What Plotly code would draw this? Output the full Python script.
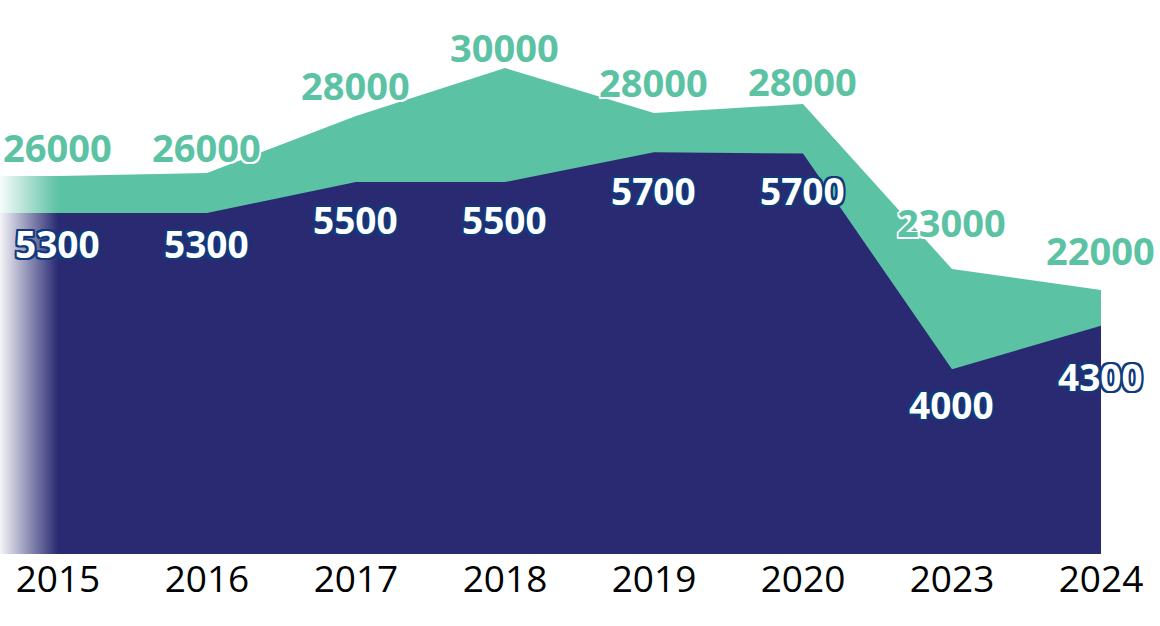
import base64
import plotly.graph_objects as go

# ---------------- data ----------------
years = ["2015", "2016", "2017", "2018", "2019", "2020", "2023", "2024"]
green_values = [25900, 26000, 27900, 29500, 28000, 28300, 22800, 22100]
navy_values = [5250, 5250, 5500, 5500, 5740, 5730, 3990, 4340]
green_labels = ["26000", "26000", "28000", "30000", "28000", "28000", "23000", "22000"]
navy_labels = ["5300", "5300", "5500", "5500", "5700", "5700", "4000", "4300"]

# ---------------- style ----------------
GREEN = "#5CC2A4"
NAVY = "#292A72"
OUTLINE_NAVY = "#12397A"
FONT = "Open Sans"
X_RANGE = [-0.389, 7.396]
Y_GREEN_RANGE = [13300, 31767]
Y_NAVY_RANGE = [2500, 6968]
green_label_lift = [29, 26, 31, 21, 31, 23, 47, 40]
navy_label_drop = [30, 30, 37, 37, 38, 37, 35, 51]


def outline(color, w=1.5):
    offs = [(-w, -w), (w, -w), (-w, w), (w, w), (0, w), (0, -w), (w, 0), (-w, 0)]
    return ", ".join(f"{dx}px {dy}px 0 {color}" for dx, dy in offs)


def white_fade_svg():
    svg = (
        '<svg xmlns="http://www.w3.org/2000/svg" width="100" height="100" '
        'viewBox="0 0 100 100" preserveAspectRatio="none">'
        '<defs><linearGradient id="w" x1="0" y1="0" x2="1" y2="0">'
        '<stop offset="0" stop-color="#ffffff" stop-opacity="0.95"/>'
        '<stop offset="1" stop-color="#ffffff" stop-opacity="0"/>'
        '</linearGradient></defs>'
        '<rect x="0" y="0" width="100" height="100" fill="url(#w)"/></svg>'
    )
    return "data:image/svg+xml;base64," + base64.b64encode(svg.encode()).decode()


xs = list(range(len(years)))
x_left = X_RANGE[0]

fig = go.Figure()

# green area (green axis y): lead-in to the left edge + main area
fig.add_trace(go.Scatter(
    x=[x_left, xs[0]], y=[green_values[0], green_values[0]], yaxis="y",
    mode="lines", line=dict(width=0), fill="tozeroy", fillcolor=GREEN,
    hoverinfo="skip", showlegend=False))
fig.add_trace(go.Scatter(
    x=xs, y=green_values, yaxis="y", mode="lines", line=dict(width=0),
    fill="tozeroy", fillcolor=GREEN, hoverinfo="skip", showlegend=False))

# navy area (navy axis y2): lead-in + main area
fig.add_trace(go.Scatter(
    x=[x_left, xs[0]], y=[navy_values[0], navy_values[0]], yaxis="y2",
    mode="lines", line=dict(width=0), fill="tozeroy", fillcolor=NAVY,
    hoverinfo="skip", showlegend=False))
fig.add_trace(go.Scatter(
    x=xs, y=navy_values, yaxis="y2", mode="lines", line=dict(width=0),
    fill="tozeroy", fillcolor=NAVY, hoverinfo="skip", showlegend=False))

# white fade over the lead-in strip (left edge -> first year)
fig.add_layout_image(dict(
    source=white_fade_svg(), xref="x", yref="paper",
    x=x_left, y=1, sizex=xs[0] - x_left, sizey=1,
    xanchor="left", yanchor="top", sizing="stretch", layer="above"))

annotations = []
for i, (v, t) in enumerate(zip(green_values, green_labels)):
    annotations.append(dict(
        x=xs[i], y=v, xref="x", yref="y", text=t, showarrow=False,
        xanchor="center", yanchor="middle", yshift=green_label_lift[i],
        font=dict(family=FONT, size=38, color=GREEN, weight="bold",
                  shadow=outline("white"))))
for i, (v, t) in enumerate(zip(navy_values, navy_labels)):
    annotations.append(dict(
        x=xs[i], y=v, xref="x", yref="y2", text=t, showarrow=False,
        xanchor="center", yanchor="middle", yshift=-navy_label_drop[i],
        font=dict(family=FONT, size=37, color="white", weight="bold",
                  shadow=outline(OUTLINE_NAVY, 2))))

fig.update_layout(
    width=1160, height=626,
    margin=dict(l=0, r=0, t=0, b=72),
    paper_bgcolor="white", plot_bgcolor="white",
    showlegend=False,
    annotations=annotations,
    xaxis=dict(range=X_RANGE, tickmode="array", tickvals=xs, ticktext=years,
               showgrid=False, zeroline=False, showline=False, ticks="",
               tickfont=dict(family=FONT, size=37, color="black"), fixedrange=True),
    yaxis=dict(range=Y_GREEN_RANGE, visible=False, showgrid=False, zeroline=False),
    yaxis2=dict(range=Y_NAVY_RANGE, visible=False, showgrid=False, zeroline=False,
                overlaying="y", side="right"),
)

fig.write_html("out.html")
